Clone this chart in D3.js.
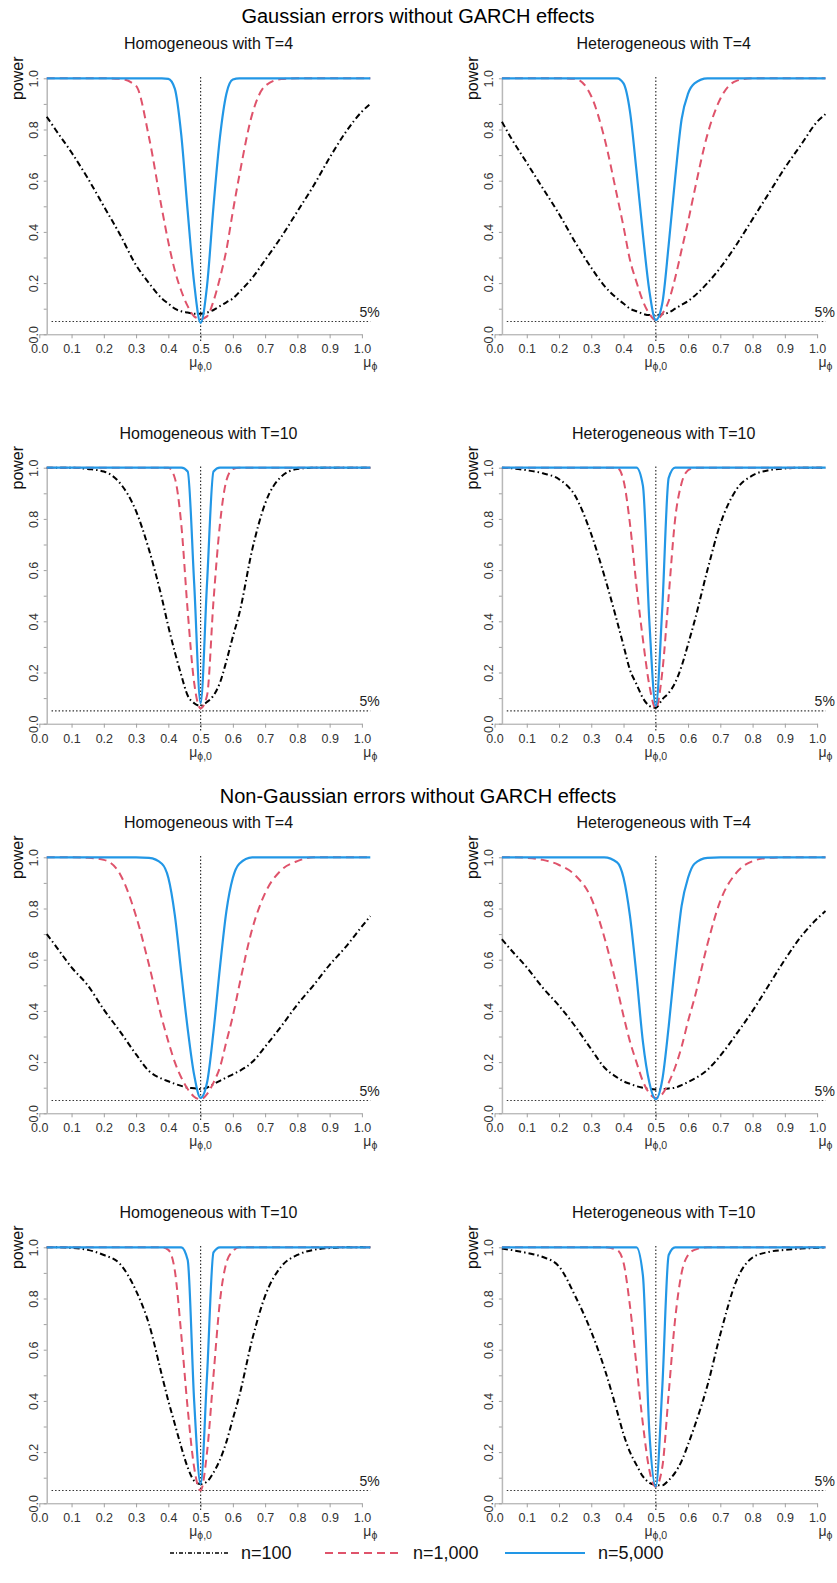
<!DOCTYPE html>
<html>
<head>
<meta charset="utf-8">
<script src="https://cdn.jsdelivr.net/npm/d3@7"></script>
<style>
  body { margin: 0; background: #fff; }
  svg { display: block; font-family: "Liberation Sans", Arial, sans-serif; }
</style>
</head>
<body>
<svg id="chart" width="837" height="1583"></svg>
<script>
// mu_phi grid the power curves were read at
const xs = [0.023, 0.05, 0.10, 0.15, 0.20, 0.25, 0.30, 0.34, 0.38, 0.40, 0.42, 0.44, 0.46, 0.48, 0.50,
            0.52, 0.54, 0.56, 0.58, 0.60, 0.62, 0.66, 0.70, 0.75, 0.80, 0.85, 0.90, 0.95, 1.00, 1.026];

// Gaussian errors
const gHom4_n100  = [0.85, 0.80, 0.71, 0.61, 0.50, 0.39, 0.27, 0.20, 0.14, 0.12, 0.10, 0.09, 0.085, 0.08, 0.08, 0.085, 0.095, 0.11, 0.125, 0.14, 0.165, 0.22, 0.29, 0.38, 0.48, 0.58, 0.69, 0.79, 0.87, 0.90];
const gHom4_n1000 = [1, 1, 1, 1, 1, 0.998, 0.97, 0.77, 0.49, 0.36, 0.25, 0.17, 0.11, 0.07, 0.06, 0.07, 0.13, 0.22, 0.33, 0.48, 0.62, 0.86, 0.97, 0.997, 1, 1, 1, 1, 1, 1];
const gHom4_n5000 = [1, 1, 1, 1, 1, 1, 1, 1, 1, 0.998, 0.96, 0.78, 0.48, 0.20, 0.045, 0.19, 0.50, 0.77, 0.94, 0.995, 1, 1, 1, 1, 1, 1, 1, 1, 1, 1];

const gHet4_n100  = [0.83, 0.77, 0.67, 0.57, 0.47, 0.36, 0.26, 0.19, 0.14, 0.12, 0.10, 0.09, 0.08, 0.075, 0.075, 0.078, 0.085, 0.10, 0.115, 0.13, 0.15, 0.20, 0.26, 0.35, 0.45, 0.55, 0.65, 0.74, 0.83, 0.86];
const gHet4_n1000 = [1, 1, 1, 1, 1, 0.998, 0.93, 0.77, 0.54, 0.42, 0.29, 0.205, 0.13, 0.08, 0.055, 0.08, 0.13, 0.22, 0.33, 0.44, 0.56, 0.78, 0.92, 0.99, 1, 1, 1, 1, 1, 1];
const gHet4_n5000 = [1, 1, 1, 1, 1, 1, 1, 1, 1, 0.98, 0.87, 0.64, 0.39, 0.17, 0.055, 0.12, 0.35, 0.61, 0.84, 0.94, 0.98, 1, 1, 1, 1, 1, 1, 1, 1, 1];

const gHom10_n100  = [1, 1, 1, 0.995, 0.985, 0.94, 0.83, 0.68, 0.49, 0.38, 0.28, 0.19, 0.11, 0.08, 0.07, 0.085, 0.11, 0.16, 0.245, 0.34, 0.43, 0.68, 0.86, 0.965, 0.995, 1, 1, 1, 1, 1];
const gHom10_n1000 = [1, 1, 1, 1, 1, 1, 1, 1, 1, 1, 0.96, 0.78, 0.44, 0.16, 0.06, 0.11, 0.48, 0.78, 0.95, 0.995, 1, 1, 1, 1, 1, 1, 1, 1, 1, 1];
const gHom10_n5000 = [1, 1, 1, 1, 1, 1, 1, 1, 1, 1, 1, 1, 0.985, 0.55, 0.08, 0.55, 0.985, 1, 1, 1, 1, 1, 1, 1, 1, 1, 1, 1, 1, 1];

const gHet10_n100  = [1, 0.998, 0.99, 0.978, 0.955, 0.89, 0.74, 0.58, 0.40, 0.305, 0.21, 0.155, 0.10, 0.07, 0.062, 0.095, 0.12, 0.16, 0.225, 0.31, 0.40, 0.60, 0.78, 0.915, 0.97, 0.99, 0.997, 1, 1, 1];
const gHet10_n1000 = [1, 1, 1, 1, 1, 1, 1, 1, 1, 0.95, 0.78, 0.54, 0.33, 0.15, 0.06, 0.20, 0.50, 0.80, 0.94, 0.99, 1, 1, 1, 1, 1, 1, 1, 1, 1, 1];
const gHet10_n5000 = [1, 1, 1, 1, 1, 1, 1, 1, 1, 1, 1, 1, 0.93, 0.40, 0.07, 0.45, 0.96, 1, 1, 1, 1, 1, 1, 1, 1, 1, 1, 1, 1, 1];

// Non-Gaussian errors
const nHom4_n100  = [0.70, 0.655, 0.57, 0.50, 0.405, 0.32, 0.23, 0.165, 0.135, 0.125, 0.115, 0.107, 0.10, 0.098, 0.095, 0.10, 0.114, 0.127, 0.14, 0.152, 0.165, 0.20, 0.26, 0.34, 0.425, 0.50, 0.58, 0.65, 0.73, 0.77];
const nHom4_n1000 = [1, 1, 1, 0.998, 0.99, 0.935, 0.77, 0.58, 0.37, 0.28, 0.20, 0.14, 0.095, 0.065, 0.055, 0.075, 0.12, 0.18, 0.28, 0.38, 0.50, 0.72, 0.86, 0.95, 0.985, 1, 1, 1, 1, 1];
const nHom4_n5000 = [1, 1, 1, 1, 1, 1, 1, 0.998, 0.975, 0.92, 0.775, 0.55, 0.33, 0.15, 0.06, 0.12, 0.32, 0.57, 0.79, 0.92, 0.975, 1, 1, 1, 1, 1, 1, 1, 1, 1];

const nHet4_n100  = [0.68, 0.64, 0.57, 0.49, 0.42, 0.34, 0.25, 0.18, 0.14, 0.125, 0.115, 0.106, 0.10, 0.095, 0.093, 0.094, 0.097, 0.10, 0.11, 0.122, 0.135, 0.17, 0.225, 0.31, 0.40, 0.50, 0.60, 0.69, 0.76, 0.79];
const nHet4_n1000 = [1, 1, 0.998, 0.99, 0.97, 0.93, 0.84, 0.69, 0.49, 0.38, 0.28, 0.20, 0.125, 0.078, 0.06, 0.075, 0.12, 0.18, 0.26, 0.36, 0.45, 0.66, 0.83, 0.94, 0.985, 0.998, 1, 1, 1, 1];
const nHet4_n5000 = [1, 1, 1, 1, 1, 1, 1, 1, 0.98, 0.92, 0.77, 0.54, 0.28, 0.12, 0.055, 0.13, 0.34, 0.59, 0.81, 0.92, 0.975, 0.998, 1, 1, 1, 1, 1, 1, 1, 1];

const nHom10_n100  = [1, 1, 0.998, 0.99, 0.97, 0.935, 0.83, 0.70, 0.50, 0.40, 0.31, 0.22, 0.14, 0.088, 0.075, 0.085, 0.12, 0.17, 0.24, 0.33, 0.42, 0.64, 0.81, 0.925, 0.97, 0.99, 0.997, 1, 1, 1];
const nHom10_n1000 = [1, 1, 1, 1, 1, 1, 1, 1, 1, 0.99, 0.91, 0.66, 0.37, 0.14, 0.05, 0.20, 0.50, 0.79, 0.94, 0.985, 1, 1, 1, 1, 1, 1, 1, 1, 1, 1];
const nHom10_n5000 = [1, 1, 1, 1, 1, 1, 1, 1, 1, 1, 1, 1, 0.95, 0.40, 0.075, 0.50, 0.98, 1, 1, 1, 1, 1, 1, 1, 1, 1, 1, 1, 1, 1];

const nHet10_n100  = [0.995, 0.99, 0.978, 0.962, 0.925, 0.81, 0.67, 0.53, 0.36, 0.27, 0.20, 0.15, 0.105, 0.08, 0.072, 0.07, 0.09, 0.12, 0.165, 0.23, 0.30, 0.46, 0.66, 0.87, 0.96, 0.982, 0.99, 0.995, 0.998, 1];
const nHet10_n1000 = [1, 1, 1, 1, 1, 1, 1, 1, 0.99, 0.94, 0.77, 0.54, 0.31, 0.13, 0.065, 0.14, 0.43, 0.72, 0.90, 0.97, 0.99, 1, 1, 1, 1, 1, 1, 1, 1, 1];
const nHet10_n5000 = [1, 1, 1, 1, 1, 1, 1, 1, 1, 1, 1, 1, 0.89, 0.28, 0.065, 0.45, 0.97, 1, 1, 1, 1, 1, 1, 1, 1, 1, 1, 1, 1, 1];

const sectionTitles = ['Gaussian errors without GARCH effects', 'Non-Gaussian errors without GARCH effects'];
const panelTitles = [
    'Homogeneous with T=4', 'Heterogeneous with T=4',
    'Homogeneous with T=10', 'Heterogeneous with T=10',
    'Homogeneous with T=4', 'Heterogeneous with T=4',
    'Homogeneous with T=10', 'Heterogeneous with T=10'
];
const panelSeries = [
    [gHom4_n100, gHom4_n1000, gHom4_n5000], [gHet4_n100, gHet4_n1000, gHet4_n5000],
    [gHom10_n100, gHom10_n1000, gHom10_n5000], [gHet10_n100, gHet10_n1000, gHet10_n5000],
    [nHom4_n100, nHom4_n1000, nHom4_n5000], [nHet4_n100, nHet4_n1000, nHet4_n5000],
    [nHom10_n100, nHom10_n1000, nHom10_n5000], [nHet10_n100, nHet10_n1000, nHet10_n5000]
];
const seriesLabels = ['n=100', 'n=1,000', 'n=5,000'];
const xTicks = [0, 0.1, 0.2, 0.3, 0.4, 0.5, 0.6, 0.7, 0.8, 0.9, 1.0];
const yTicks = [0, 0.1, 0.2, 0.3, 0.4, 0.5, 0.6, 0.7, 0.8, 0.9, 1.0];
const nullValue = 0.5;
const sizeLevel = 0.05;

// line styles per sample size
const seriesStyles = [
    { color: '#000000', dash: '6,3,1.5,3', width: 2 },
    { color: '#DF536B', dash: '8,5', width: 2 },
    { color: '#2297E6', dash: null, width: 2.2 }
];

const colLeft = [39.3, 494.5];
const rowTop = [78.3, 467.7, 857.3, 1247.3];
const plotW = 322.6;
const plotH = 256;

const svg = d3.select('#chart');
svg.append('rect').attr('width', 837).attr('height', 1583).attr('fill', '#fff');

svg.selectAll('.section-title')
    .data(sectionTitles)
    .enter()
    .append('text')
    .attr('class', 'section-title')
    .attr('x', 418)
    .attr('y', (d, i) => i === 0 ? 23 : 803)
    .attr('text-anchor', 'middle')
    .style('font-size', '20px')
    .attr('fill', '#000')
    .text(d => d);

function drawPanel(index) {
    const col = index % 2;
    const row = Math.floor(index / 2);
    const x0 = colLeft[col];
    const y1 = rowTop[row];

    const xScale = d3.scaleLinear().domain([0, 1]).range([x0, x0 + plotW]);
    const yScale = d3.scaleLinear().domain([0, 1]).range([y1 + plotH, y1]);

    const panel = svg.append('g');

    // x axis
    const xAxis = panel.append('g')
        .attr('transform', `translate(0,${yScale(0)})`)
        .call(d3.axisBottom(xScale).tickValues(xTicks).tickSize(4).tickSizeOuter(0).tickFormat(d3.format('.1f')));
    xAxis.select('.domain').attr('stroke', '#a0a0a0');
    xAxis.selectAll('.tick line').attr('stroke', '#a0a0a0');
    xAxis.selectAll('.tick text')
        .attr('y', 19).attr('dy', 0)
        .attr('fill', '#333')
        .style('font-size', '12.5px');

    // y axis sits at the first grid point
    const yAxis = panel.append('g')
        .attr('transform', `translate(${xScale(xs[0])},0)`)
        .call(d3.axisLeft(yScale).tickValues(yTicks).tickSize(3).tickSizeOuter(0)
            .tickFormat(d => Math.round(d * 10) % 2 === 0 ? d3.format('.1f')(d) : ''));
    yAxis.select('.domain').attr('stroke', '#b8b8b8').attr('stroke-width', 1.5);
    yAxis.selectAll('.tick line').attr('stroke', '#a0a0a0');
    yAxis.selectAll('.tick text')
        .attr('transform', 'rotate(-90)')
        .attr('x', 0).attr('y', -9).attr('dy', 0)
        .attr('text-anchor', 'middle')
        .attr('fill', '#333')
        .style('font-size', '12.5px');
    xAxis.attr('font-family', null);
    yAxis.attr('font-family', null);

    // reference lines: null value and 5% level
    panel.append('line')
        .attr('x1', xScale(nullValue)).attr('x2', xScale(nullValue))
        .attr('y1', yScale(1.005)).attr('y2', yScale(-0.03))
        .attr('stroke', '#333').attr('stroke-width', 1.2).attr('stroke-dasharray', '1.5,2');
    panel.append('line')
        .attr('x1', xScale(0.038)).attr('x2', xScale(xs[xs.length - 1]))
        .attr('y1', yScale(sizeLevel)).attr('y2', yScale(sizeLevel))
        .attr('stroke', '#333').attr('stroke-width', 1.2).attr('stroke-dasharray', '1.5,2');
    panel.append('text')
        .attr('x', xScale(1.055))
        .attr('y', yScale(0.069))
        .attr('text-anchor', 'end')
        .attr('fill', '#222')
        .style('font-size', '14px')
        .text('5%');

    const line = d3.line()
        .x((d, i) => xScale(xs[i]))
        .y(d => yScale(d))
        .curve(d3.curveMonotoneX);

    panelSeries[index].forEach((values, s) => {
        const style = seriesStyles[s];
        panel.append('path')
            .datum(values)
            .attr('fill', 'none')
            .attr('stroke', style.color)
            .attr('stroke-width', style.width)
            .attr('stroke-dasharray', style.dash)
            .attr('d', line);
    });

    // titles and axis labels
    panel.append('text')
        .attr('x', xScale((xs[0] + xs[xs.length - 1]) / 2))
        .attr('y', y1 - 29)
        .attr('text-anchor', 'middle')
        .style('font-size', '16px')
        .attr('fill', '#111')
        .text(panelTitles[index]);

    panel.append('text')
        .attr('transform', `translate(${x0 - 16.5},${y1}) rotate(-90)`)
        .attr('text-anchor', 'middle')
        .style('font-size', '16px')
        .attr('fill', '#111')
        .text('power');

    const mu0 = panel.append('text')
        .attr('x', xScale(nullValue))
        .attr('y', yScale(0) + 33)
        .attr('text-anchor', 'middle')
        .attr('fill', '#333')
        .style('font-size', '14px');
    mu0.append('tspan').text('μ');
    mu0.append('tspan').attr('dy', 3).style('font-size', '10.5px').text('ϕ,0');

    const mu = panel.append('text')
        .attr('x', xScale(xs[xs.length - 1]))
        .attr('y', yScale(0) + 33)
        .attr('text-anchor', 'middle')
        .attr('fill', '#333')
        .style('font-size', '14px');
    mu.append('tspan').text('μ');
    mu.append('tspan').attr('dy', 3).style('font-size', '10.5px').text('ϕ');
}

panelTitles.forEach((t, i) => drawPanel(i));

// legend along the bottom
const legendY = 1553;
const legendLines = [[170, 228], [325, 400], [505, 585]];
const legend = svg.append('g');
seriesLabels.forEach((label, s) => {
    const style = seriesStyles[s];
    legend.append('line')
        .attr('x1', legendLines[s][0]).attr('x2', legendLines[s][1])
        .attr('y1', legendY).attr('y2', legendY)
        .attr('stroke', style.color)
        .attr('stroke-width', s === 0 ? 1.5 : style.width)
        .attr('stroke-dasharray', s === 0 ? '4,2,1,2' : style.dash);
    legend.append('text')
        .attr('x', legendLines[s][1] + 13)
        .attr('y', legendY + 6)
        .style('font-size', '18px')
        .attr('fill', '#111')
        .text(label);
});
</script>
</body>
</html>
